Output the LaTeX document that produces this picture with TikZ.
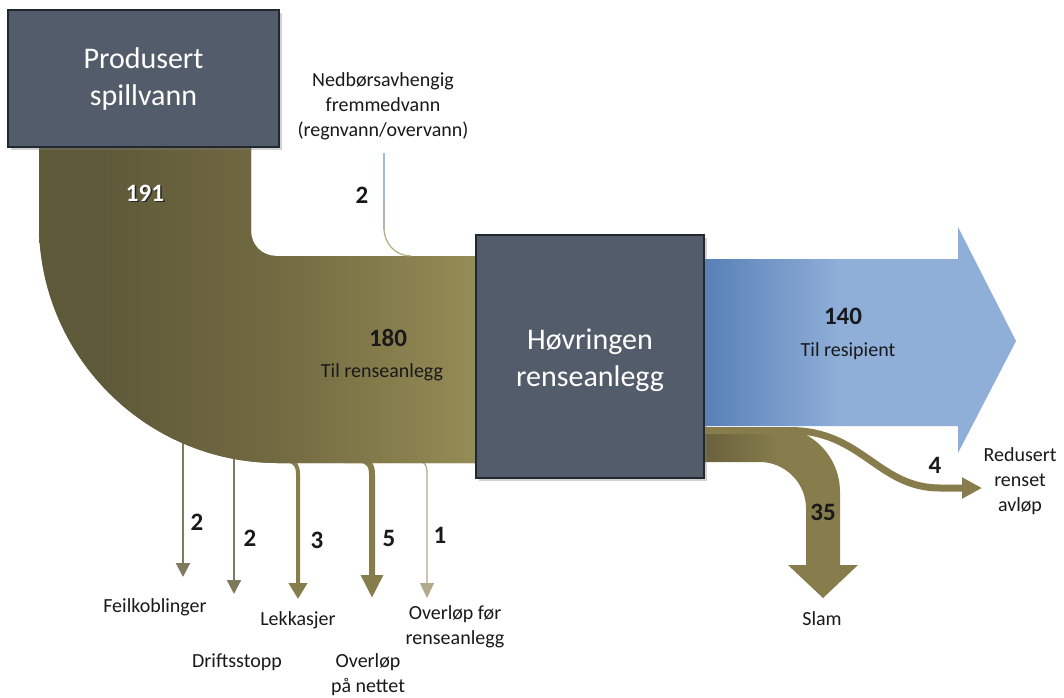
\documentclass[tikz,border=0pt]{standalone}
\usepackage{fontspec}
\setmainfont{Carlito}
\usetikzlibrary{arrows.meta,shadows}
\definecolor{boxfill}{RGB}{83,92,106}
\definecolor{boxedge}{RGB}{35,39,46}
\definecolor{pA}{RGB}{94,89,57}
\definecolor{pB}{RGB}{114,106,65}
\definecolor{pC}{RGB}{150,140,86}
\definecolor{bA}{RGB}{86,127,182}
\definecolor{bB}{RGB}{143,174,216}
\definecolor{oliveM}{RGB}{134,124,76}
\definecolor{oliveD}{RGB}{104,96,60}
\definecolor{oliveG}{RGB}{128,122,92}
\definecolor{paleO}{RGB}{178,170,140}
\definecolor{thinblue}{RGB}{160,185,214}
\definecolor{thinbeige}{RGB}{185,175,135}
\definecolor{txt}{RGB}{25,25,25}
\pgfdeclarehorizontalshading{pipeshade}{100bp}{color(0bp)=(pA); color(32bp)=(pA); color(52bp)=(pB); color(75bp)=(pC); color(100bp)=(pC)}
\pgfdeclarehorizontalshading{blueshade}{100bp}{color(0bp)=(bA); color(25bp)=(bA); color(47bp)=(bB); color(100bp)=(bB)}
\pgfdeclarehorizontalshading{slamshade}{100bp}{color(0bp)=(oliveD); color(25bp)=(oliveD); color(50bp)=(oliveM); color(100bp)=(oliveM)}
\begin{document}
\begin{tikzpicture}[x=1pt,y=-1pt,
  box/.style={draw=boxedge, line width=1.4pt, fill=boxfill, text=white,
    font=\fontsize{30}{37}\selectfont, align=center, inner sep=0pt,
    drop shadow={opacity=0.35, shadow xshift=2.5pt, shadow yshift=-2.5pt}},
  lbl/.style={font=\fontsize{20}{25}\selectfont, align=center, text=txt, inner sep=0pt},
  num/.style={font=\bfseries\fontsize{25}{30}\selectfont, text=txt, inner sep=0pt},
  outflow/.style={draw=oliveG, line width=2pt, -{Triangle[width=14pt,length=14pt]}}]
\useasboundingbox (0,0) rectangle (1064,697);
\fill[white] (0,0) rectangle (1064,697);

% ---- small outflows below the main pipe (drawn first, pipe covers their roots)
\coordinate (a1s) at (183,430); \coordinate (a1e) at (183,577);
\coordinate (a2s) at (234,450); \coordinate (a2e) at (234,594);
\coordinate (a3s) at (278,461); \coordinate (a3e) at (298,599);
\coordinate (a4s) at (345,460); \coordinate (a4e) at (372,598);
\coordinate (a5s) at (412,461); \coordinate (a5e) at (427,598);
\draw[outflow] (a1s) -- (a1e);
\draw[outflow] (a2s) -- (a2e);
\draw[outflow, draw=oliveM, line width=4pt, -{Triangle[width=18pt,length=16pt]}]
  (a3s) -- (288,461) .. controls (295,461) and (298,466) .. (298,474) -- (a3e);
\draw[outflow, draw=oliveM, line width=6pt, -{Triangle[width=21pt,length=23pt]}]
  (a4s) -- (360,460) .. controls (368,460) and (372,465) .. (372,474) -- (a4e);
\draw[outflow, draw=paleO, line width=1.3pt, -{Triangle[width=14pt,length=15pt]}]
  (a5s) -- (418,461) .. controls (424,461) and (427,465) .. (427,472) -- (a5e);

% ---- main pipe
\def\pipepath{(39,140) -- (39,224) .. controls (39,356) and (146,463) .. (278,463)
  -- (480,463) -- (480,256) -- (276,256)
  .. controls (262,256) and (251,245) .. (251,231) -- (251,140) -- cycle}
\fill[pB] \pipepath;
\shade[shading=pipeshade] \pipepath;

% ---- thin inflow (2)
\coordinate (r0) at (384,153);
\coordinate (r1) at (411,256);
\draw[line width=1.3pt, thinblue] (r0) -- (384,200);
\draw[line width=1.3pt, thinblue!50!thinbeige] (384,199) -- (384,229);
\draw[line width=1.3pt, thinbeige] (384,228) .. controls (384,244) and (396,256) .. (r1);

% ---- sludge (35) and reduced (4)
\shade[shading=slamshade]
  (700,427) -- (775,427) .. controls (811,427) and (840,456) .. (840,492)
  -- (840,565) -- (858,565) -- (823,598) -- (788,565) -- (806,565)
  -- (806,508) .. controls (806,483) and (785,462) .. (760,462) -- (700,462) -- cycle;
\coordinate (r4e) at (982,488);
\draw[line width=7pt, oliveM, -{Triangle[width=20pt,length=20pt]}]
  (700,430.5) -- (790,430.5) .. controls (862,430.5) and (878,488) .. (940,488) -- (r4e);

% ---- blue arrow to recipient
\shade[shading=blueshade]
  (700,259) -- (958,259) -- (958,227) -- (1016,341) -- (958,453) -- (958,426) -- (700,426) -- cycle;

% ---- boxes
\node[box, minimum width=271pt, minimum height=137pt] (prod) at (143.5,78.5) {Produsert\\spillvann};
\node[box, minimum width=228pt, minimum height=243pt] (hov) at (590,356.5) {};
\node[text=white, font=\fontsize{30}{37}\selectfont, align=center, inner sep=0pt] (hovt) at (590,360) {Høvringen\\renseanlegg};

% ---- labels
\node[lbl] (ned) at (383,106) {Nedbørsavhengig\\fremmedvann\\(regnvann/overvann)};
\node[num, text=black!85] at (146.5,194.5) {191};
\node[num, text=white] (n191) at (145,193) {191};
\node[num] (n2top) at (362,195) {2};
\node[num] (n180) at (388,338) {180};
\node[lbl] (til1) at (382,372) {Til renseanlegg};
\node[num] (n140) at (843,316) {140};
\node[lbl] (til2) at (848,351) {Til resipient};
\node[num] (n4) at (935,465) {4};
\node[lbl] (red) at (1020,481) {Redusert\\renset\\avløp};
\node[num] (n35) at (823,512) {35};
\node[lbl] (slam) at (822,619) {Slam};

\node[num] (b1) at (197,522) {2};
\node[num] (b2) at (250,538) {2};
\node[num] (b3) at (317,540) {3};
\node[num] (b4) at (389,538) {5};
\node[num] (b5) at (440,535) {1};
\node[lbl] (l1) at (155,607) {Feilkoblinger};
\node[lbl] (l2) at (237,662) {Driftsstopp};
\node[lbl] (l3) at (298,620) {Lekkasjer};
\node[lbl] (l4) at (368,675) {Overløp\\på nettet};
\node[lbl] (l5) at (455,627) {Overløp før\\renseanlegg};
\end{tikzpicture}
\end{document}
